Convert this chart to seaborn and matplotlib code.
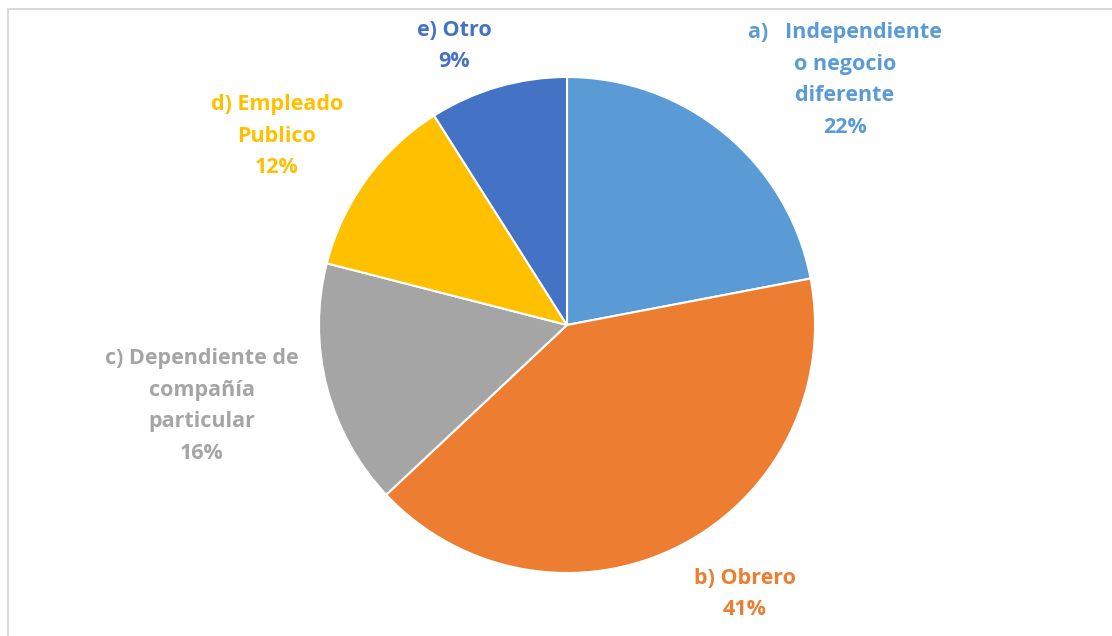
import matplotlib.pyplot as plt
import matplotlib.patches as mpatches
import seaborn as sns

# datos del gráfico
categorias = ['a)   Independiente\no negocio\ndiferente', 'b) Obrero',
              'c) Dependiente de\ncompañía\nparticular', 'd) Empleado\nPublico', 'e) Otro']
porcentajes = [22, 41, 16, 12, 9]
colores = ['#5B9BD5', '#ED7D31', '#A5A5A5', '#FFC000', '#4472C4']

sns.set_theme(style='white')
plt.rcParams['font.family'] = ['Open Sans', 'DejaVu Sans']

fig = plt.figure(figsize=(11.12, 6.36), dpi=100)
ax = fig.add_axes([0, 0, 1, 1])
ax.set_aspect('equal')

# borde del área del gráfico
ax.add_patch(mpatches.Rectangle((7.5, -10), 1200, 636 - 8.5 + 10, fill=False,
                                edgecolor='#D9D9D9', linewidth=1.5))

ax.pie(porcentajes, colors=colores, startangle=90, counterclock=False,
       center=(567, 311), radius=248, frame=True,
       wedgeprops=dict(edgecolor='white', linewidth=1.5))
ax.set_xlim(0, 1112)
ax.set_ylim(0, 636)
ax.axis('off')

# posiciones de las etiquetas (centro del bloque de texto, en píxeles)
pos_etiquetas = [(845, 636 - 80), (745, 636 - 594), (202, 636 - 406),
                 (277, 636 - 136), (454, 636 - 46)]
for cat, val, col, (x, y) in zip(categorias, porcentajes, colores, pos_etiquetas):
    ax.text(x, y, f'{cat}\n{val}%', color=col, fontsize=15.5, fontweight='bold',
            ha='center', va='center', multialignment='center', linespacing=1.65)

fig.savefig('out.png', dpi=100)
